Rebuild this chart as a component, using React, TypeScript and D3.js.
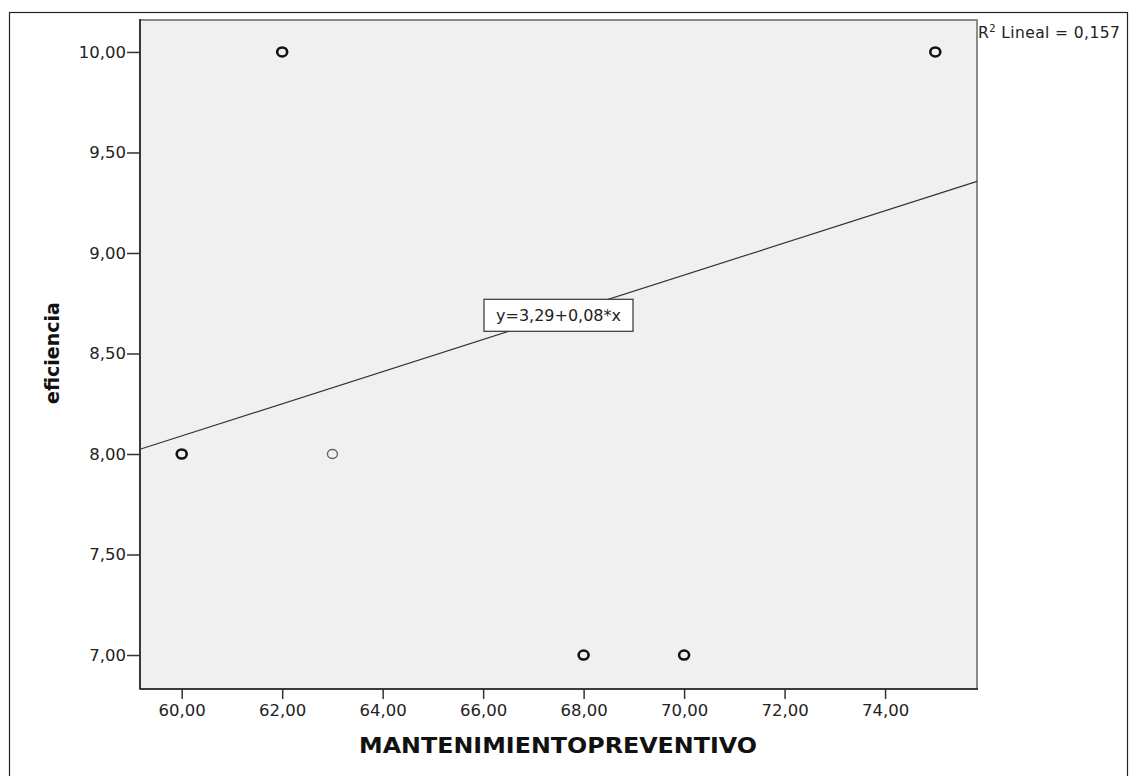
import * as d3 from "d3";
import { useEffect, useRef } from "react";

// Data (SPSS style)
const mantenimiento = [60, 62, 63, 68, 70, 75];
const eficiencia = [8, 10, 8, 7, 7, 10];
// bold markers = overlapping cases
const casos = [2, 2, 1, 2, 2, 2];

const xTicks = [60, 62, 64, 66, 68, 70, 72, 74];
const yTicks = [7, 7.5, 8, 8.5, 9, 9.5, 10];

const intercepto = 3.29;
const pendiente = 0.08;
const r2 = 0.157;

const W = 1129;
const H = 776;
const plot = { left: 140, top: 20, right: 977, bottom: 689 };

const fmt = (v: number) => d3.format(".2f")(v).replace(".", ",");

export default function App() {
  const xAxisRef = useRef<SVGGElement>(null);
  const yAxisRef = useRef<SVGGElement>(null);

  const x = d3.scaleLinear().domain([59.17, 75.83]).range([plot.left, plot.right]);
  const y = d3.scaleLinear().domain([6.831, 10.159]).range([plot.bottom, plot.top]);

  useEffect(() => {
    const xa = d3.select(xAxisRef.current);
    xa.call(d3.axisBottom(x).tickValues(xTicks).tickFormat(fmt as any).tickSize(10).tickPadding(5));
    xa.select(".domain").remove();
    xa.selectAll("line").attr("stroke", "#333").attr("stroke-width", 1.5);
    xa.selectAll("text")
      .style("font-family", "'DejaVu Sans', sans-serif")
      .style("font-size", "16.5px")
      .attr("fill", "#222");

    const ya = d3.select(yAxisRef.current);
    ya.call(d3.axisLeft(y).tickValues(yTicks).tickFormat(fmt as any).tickSize(13).tickPadding(1));
    ya.select(".domain").remove();
    ya.selectAll("line").attr("stroke", "#333").attr("stroke-width", 1.5);
    ya.selectAll("text")
      .style("font-family", "'DejaVu Sans', sans-serif")
      .style("font-size", "16.5px")
      .attr("fill", "#222");
  }, []);

  const [d0, d1] = x.domain();
  const fit = (v: number) => intercepto + pendiente * v;
  const midX = (d0 + d1) / 2;
  const boxCx = x(midX);
  const boxCy = y(fit(midX));

  return (
    <svg
      width={W}
      height={H}
      style={{ position: "absolute", left: 0, top: 0, background: "#fff" }}
    >
      {/* outer frame */}
      <rect x={9.5} y={12.5} width={1118} height={800} fill="none" stroke="#222" strokeWidth={1.2} />

      {/* plot area */}
      <rect
        x={plot.left}
        y={plot.top}
        width={plot.right - plot.left}
        height={plot.bottom - plot.top}
        fill="#f0f0f0"
        stroke="#8c8c8c"
        strokeWidth={2}
      />
      <line x1={plot.left} x2={plot.left} y1={plot.top - 1} y2={plot.bottom} stroke="#222" strokeWidth={1.6} />
      <line x1={plot.left} x2={plot.right + 1} y1={plot.bottom} y2={plot.bottom} stroke="#222" strokeWidth={1.6} />

      <g ref={xAxisRef} transform={`translate(0,${plot.bottom})`} />
      <g ref={yAxisRef} transform={`translate(${plot.left},0)`} />

      {/* regression line */}
      <line
        x1={x(d0)}
        y1={y(fit(d0))}
        x2={x(d1)}
        y2={y(fit(d1))}
        stroke="#333"
        strokeWidth={1.2}
      />

      {/* points */}
      {mantenimiento.map((m, i) => (
        <ellipse
          key={i}
          cx={x(m)}
          cy={y(eficiencia[i])}
          rx={5}
          ry={4.5}
          fill="none"
          stroke={casos[i] > 1 ? "#111" : "#666"}
          strokeWidth={casos[i] > 1 ? 2.6 : 1.4}
        />
      ))}

      {/* equation label */}
      <rect x={boxCx - 74.5} y={boxCy - 16} width={149} height={32} fill="#fff" stroke="#333" strokeWidth={1.2} />
      <text
        x={boxCx}
        y={boxCy + 6}
        textAnchor="middle"
        fontFamily="'DejaVu Sans', sans-serif"
        fontSize={16}
        fill="#222"
      >
        {`y=${fmt(intercepto)}+${fmt(pendiente)}*x`}
      </text>

      {/* R2 label */}
      <text
        x={978}
        y={38}
        fontFamily="'DejaVu Sans', sans-serif"
        fontSize={15.5}
        letterSpacing={0.4}
        fill="#222"
      >
        R<tspan fontSize={10} dy={-6}>2</tspan>
        <tspan dy={6}>{` Lineal = ${d3.format(".3f")(r2).replace(".", ",")}`}</tspan>
      </text>

      {/* axis titles */}
      <text
        x={(359 + 757) / 2}
        y={753}
        textAnchor="middle"
        fontFamily="'DejaVu Sans', sans-serif"
        fontWeight="bold"
        fontSize={21}
        textLength={398}
        lengthAdjust="spacingAndGlyphs"
        fill="#111"
      >
        MANTENIMIENTOPREVENTIVO
      </text>
      <text
        transform={`translate(59,353) rotate(-90)`}
        textAnchor="middle"
        fontFamily="'DejaVu Sans', sans-serif"
        fontWeight="bold"
        fontSize={19}
        fill="#111"
      >
        eficiencia
      </text>
    </svg>
  );
}
